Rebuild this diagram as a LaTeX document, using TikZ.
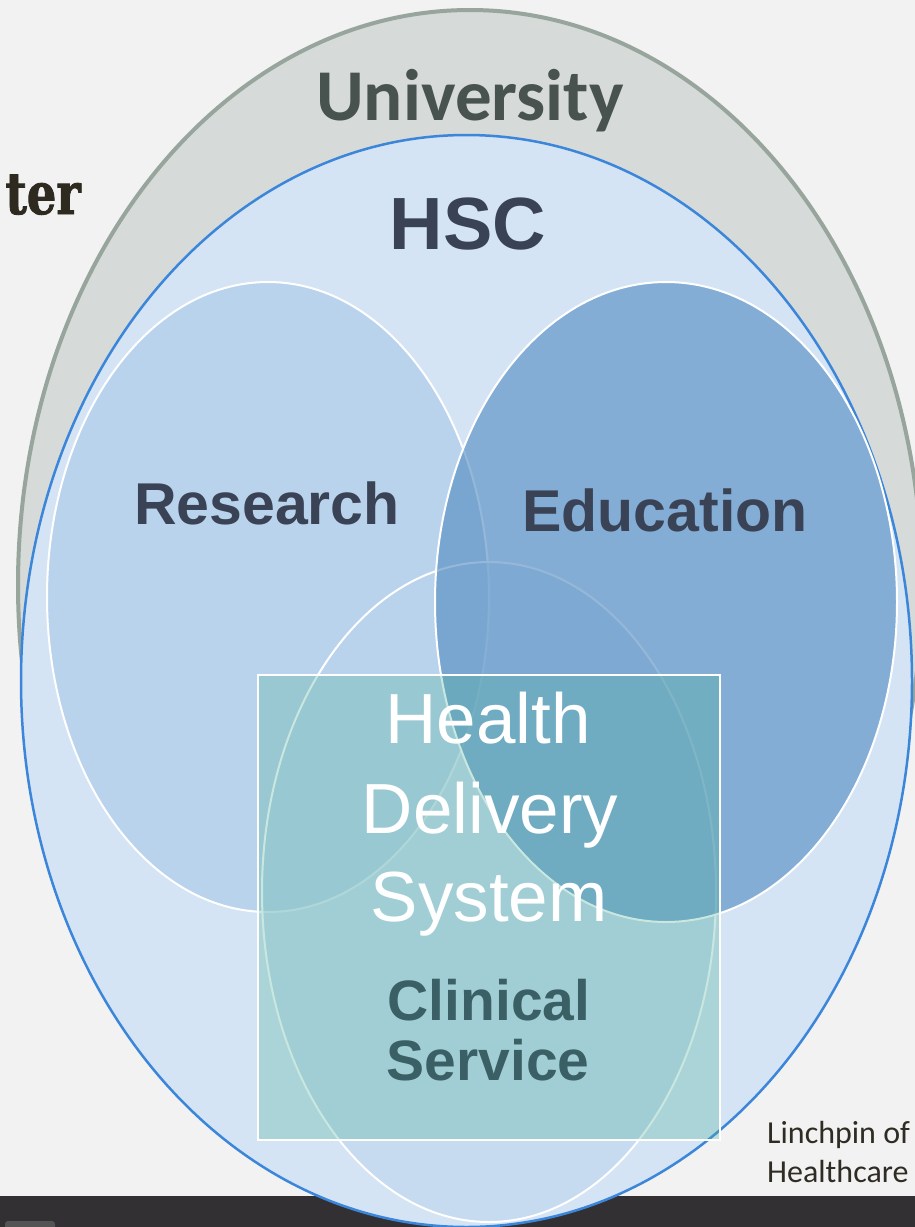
\documentclass[tikz,border=0pt]{standalone}
\usepackage{fontspec}
\setmainfont{Liberation Sans}
\newfontfamily\carlito{Carlito}
\newfontfamily\slab[FakeStretch=0.8, FakeBold=1.5]{DejaVu Serif}
\definecolor{bgc}{HTML}{F2F2F2}
\definecolor{barc}{HTML}{333033}
\definecolor{univfill}{HTML}{D6DAD9}
\definecolor{univline}{HTML}{97A59D}
\definecolor{univtext}{HTML}{48524E}
\definecolor{hscfill}{HTML}{D4E4F5}
\definecolor{hscline}{HTML}{3C86DA}
\definecolor{hsctext}{HTML}{3A4255}
\definecolor{resfill}{HTML}{BAD3EC}
\definecolor{clinfill}{HTML}{B9D3EC}
\definecolor{edufill}{HTML}{4A86BF}
\definecolor{rectfill}{HTML}{4EB198}
\definecolor{cstext}{HTML}{3A6066}
\definecolor{darktext}{HTML}{2F2C24}
\definecolor{slabtext}{HTML}{2E2A20}
\begin{document}
\begin{tikzpicture}[x=1pt,y=-1pt,
  lbl/.style={inner sep=0pt, anchor=base},
  bigbold/.style={lbl, font=\bfseries\fontsize{59}{59}\selectfont, text=hsctext},
  hdsline/.style={lbl, font=\fontsize{71}{71}\selectfont, text=white},
  csline/.style={lbl, font=\bfseries\fontsize{57}{57}\selectfont, text=cstext},
  circlebox/.style={draw=white, line width=2pt}
]
\useasboundingbox (0,0) rectangle (915,1227);
% background and bottom bar
\fill[bgc] (0,0) rectangle (915,1227);
\fill[barc] (0,1196) rectangle (915,1227);
\fill[gray!45!barc, rounded corners=3pt] (5,1221) rectangle (55,1235);
% University
\filldraw[fill=univfill, draw=univline, line width=4pt] (470,585) ellipse [x radius=452, y radius=575];
% HSC
\filldraw[fill=hscfill, draw=hscline, line width=2.5pt] (466.5,681) ellipse [x radius=445.5, y radius=546];
% Research
\filldraw[circlebox, fill=resfill] (268,597) ellipse [x radius=221, y radius=315];
% Clinical service
\filldraw[circlebox, fill=clinfill, fill opacity=0.5] (489,892) ellipse [x radius=227, y radius=330];
% Education
\filldraw[circlebox, fill=edufill, fill opacity=0.58] (666,602) ellipse [x radius=231, y radius=320];
% Health delivery system box
\filldraw[fill=rectfill, fill opacity=0.3, draw=white, line width=2.5pt] (258,675) rectangle (720,1140);

% texts
\node[lbl, font=\carlito\bfseries\fontsize{73}{73}\selectfont, text=univtext] (univ) at (470,120) {University};
\node[lbl, font=\bfseries\fontsize{74}{74}\selectfont, text=hsctext] (hsc) at (468,249) {HSC};
\node[bigbold] (res) at (267,524) {Research};
\node[bigbold] (edu) at (665,531) {Education};
\node[hdsline] (hds1) at (488,743) {Health};
\node[hdsline] (hds2) at (490,833) {Delivery};
\node[hdsline] (hds3) at (489,921) {System};
\node[csline] (cs1) at (489,1020) {Clinical};
\node[csline] (cs2) at (488,1080) {Service};
\node[lbl, anchor=base west, font=\carlito\fontsize{32}{32}\selectfont, text=darktext] (lin1) at (767,1143) {Linchpin of};
\node[lbl, anchor=base west, font=\carlito\fontsize{32}{32}\selectfont, text=darktext] (lin2) at (767,1182) {Healthcare};
\node[lbl, anchor=base east, font=\slab\bfseries\fontsize{58}{58}\selectfont, text=slabtext] (ter) at (81,214) {ter};
\end{tikzpicture}
\end{document}
